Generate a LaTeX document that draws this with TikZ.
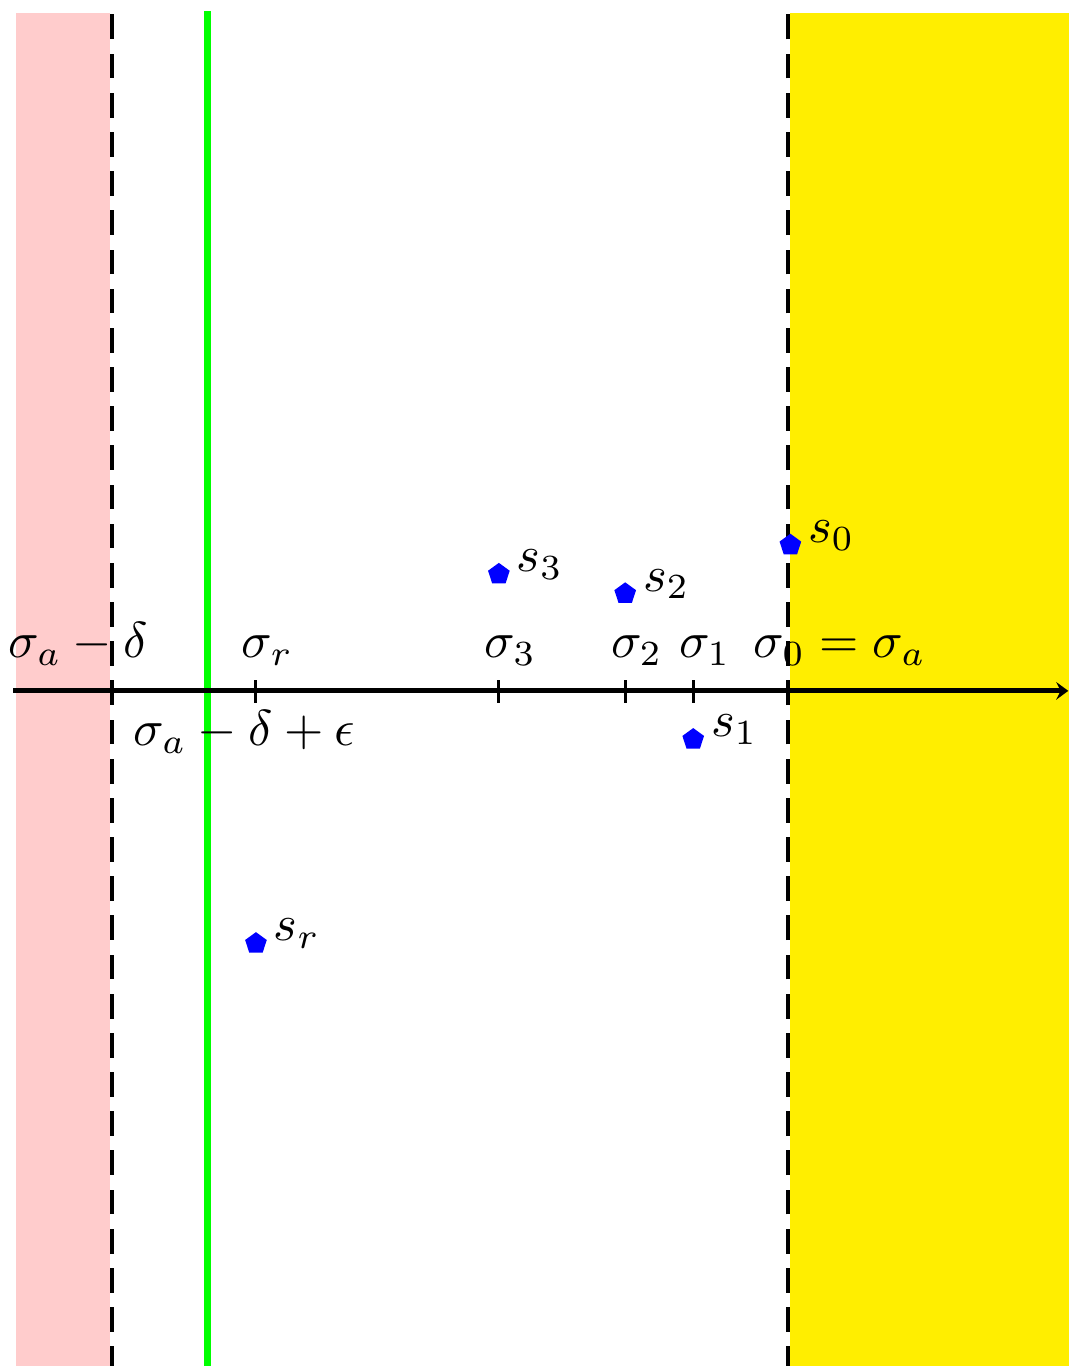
\documentclass[tikz,border=0pt]{standalone}
\usepackage{amsmath,amssymb}
\usepackage{xcolor}
\usepackage{tikz}
\usetikzlibrary{arrows.meta,shapes.geometric}
\definecolor{leftband}{RGB}{255,204,204}
\definecolor{rightband}{RGB}{255,238,0}
\definecolor{abscissa}{RGB}{0,255,0}
\definecolor{polecol}{RGB}{0,0,255}

\begin{document}
\begin{tikzpicture}[x=0.6757cm,y=0.6757cm,
  bound/.style={line width=1.6pt,dash pattern=on 4.9pt off 2.85pt},
  pole/.style={regular polygon,regular polygon sides=5,fill=polecol,inner sep=0pt,minimum size=4.5pt},
  polelab/.style={right},
  ticklab/.style={anchor=base}]
  \useasboundingbox (-0.134,-6.948) rectangle (10.863,7.11);
  % strip boundaries
  \draw[bound] (1,-7) -- (1,7);
  \draw[bound] (8,-7) -- (8,7);
  \fill[leftband] (0.03,-7) rectangle (1,6.98);
  \fill[rightband] (8,-7) rectangle (11,6.98);
  \draw[abscissa,line width=1.25pt] (2,-7) -- (2,7);
  % real axis
  \draw[line width=0.95pt,-{Stealth[length=2.4pt,width=3.5pt,inset=0.9pt]}] (0,0) -- (10.86,0);
  \foreach \x/\nm/\lab in {2.5/r/{\sigma_r},5/3/{\sigma_3},6.3/2/{\sigma_2},7/1/{\sigma_1}}{
    \draw[semithick] (\x,-0.12) -- (\x,0.11);
    \node[ticklab] (sig\nm) at (\x+0.12,0.34) {$\lab$};
  }
  \node[ticklab] (sigad) at (0.67,0.34) {$\sigma_a-\delta$};
  \node[ticklab] (sigz) at (8.51,0.34) {$\sigma_0=\sigma_a$};
  \node[ticklab] (sigade) at (2.38,-0.565) {$\sigma_a-\delta+\epsilon$};
  % points
  \node[pole] (s0) at (8,1.5) {};
  \node[pole] (s3) at (5,1.2) {};
  \node[pole] (s2) at (6.3,1.0) {};
  \node[pole] (s1) at (7,-0.5) {};
  \node[pole] (sr) at (2.5,-2.6) {};
  \node[polelab] (ls0) at (8,1.6) {$s_0$};
  \node[polelab] (ls3) at (5,1.3) {$s_3$};
  \node[polelab] (ls2) at (6.3,1.1) {$s_2$};
  \node[polelab] (ls1) at (7,-0.4) {$s_1$};
  \node[polelab] (lsr) at (2.5,-2.5) {$s_r$};
\end{tikzpicture}
\end{document}
